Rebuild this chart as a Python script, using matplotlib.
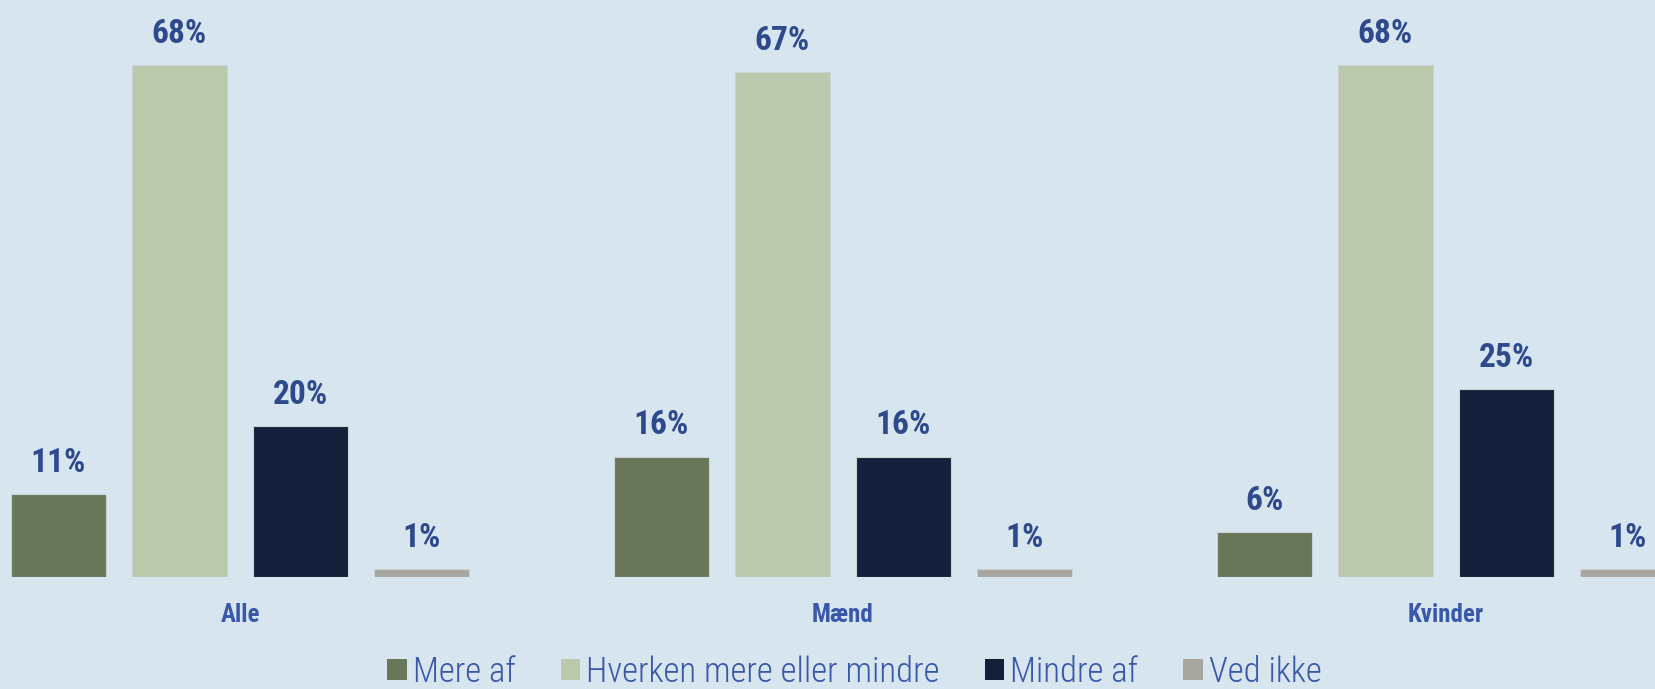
import matplotlib
matplotlib.use("Agg")
import matplotlib.pyplot as plt
from matplotlib.patches import Patch
import numpy as np

groups = ["Alle", "Mænd", "Kvinder"]
series = ["Mere af", "Hverken mere eller mindre", "Mindre af", "Ved ikke"]
mere_af = [11, 16, 6]
hverken = [68, 67, 68]
mindre_af = [20, 16, 25]
ved_ikke = [1, 1, 1]

colors = ["#68765A", "#BAC8AB", "#141F39", "#A8A6A0"]
bg = "#D7E5EF"
label_col = "#2E4A8C"
text_col = "#3A58A8"
fonts = ["Roboto Condensed", "Liberation Sans Narrow", "Roboto", "DejaVu Sans"]

fig = plt.figure(figsize=(16.56, 6.89), dpi=100, facecolor=bg)
ax = fig.add_axes([0, 112 / 689, 1, 577 / 689])
ax.set_facecolor(bg)

x = np.arange(len(groups))
offsets = np.array([-1.5, -0.5, 0.5, 1.5]) * (121 / 603)
width = 95 / 603

for vals, off, col in zip([mere_af, hverken, mindre_af, ved_ikke], offsets, colors):
    bars = ax.bar(x + off, vals, width, color=col, edgecolor="#C9D3D6", linewidth=0.8)
    for b, v in zip(bars, vals):
        ax.text(b.get_x() + b.get_width() / 2, v + 2.0, f"{v}%", ha="center", va="bottom",
                fontsize=24, fontweight="bold", color=label_col, family=fonts)

ax.set_xlim(-240 / 603, (1656 - 240) / 603)
ax.set_ylim(0, 577 / 7.53)
ax.set_xticks(x)
ax.set_xticklabels(groups, fontsize=18, fontweight="bold", color=text_col, family=fonts)
ax.tick_params(axis="x", length=0, pad=19)
ax.set_yticks([])
for s in ax.spines.values():
    s.set_visible(False)

handles = [Patch(facecolor=c, edgecolor="none") for c in colors]
fig.legend(handles, series, loc="center", bbox_to_anchor=(0.516, 1 - 672 / 689), ncol=4,
           frameon=False, handlelength=0.55, handleheight=0.55, handletextpad=0.18,
           columnspacing=1.3, prop={"family": fonts, "size": 25, "weight": "light"},
           labelcolor=text_col)

fig.savefig("out.png", dpi=100, facecolor=bg)
